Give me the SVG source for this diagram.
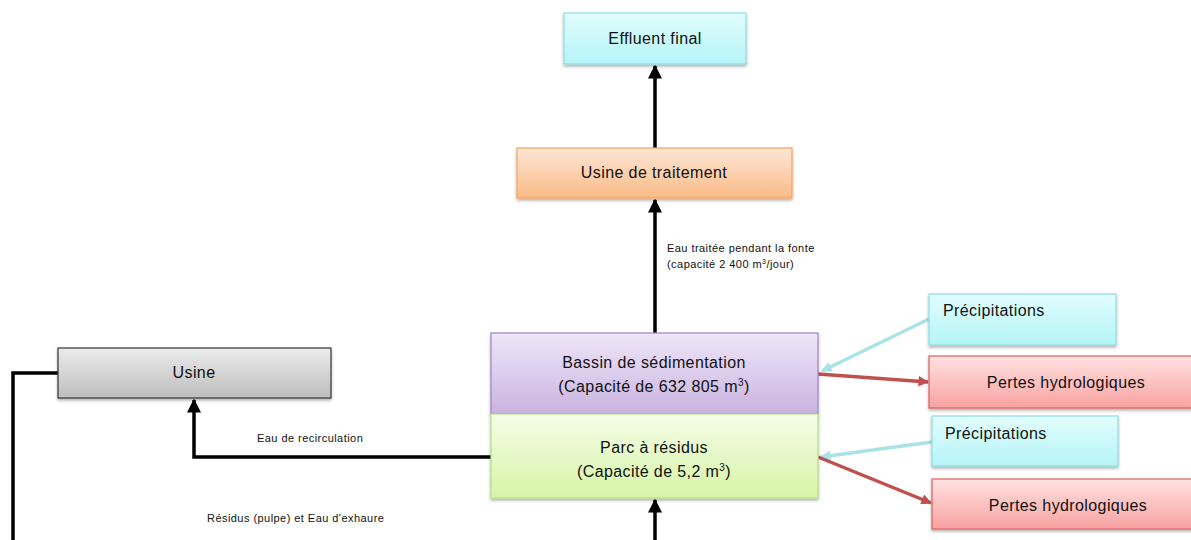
<svg xmlns="http://www.w3.org/2000/svg" width="1191" height="540" viewBox="0 0 1191 540">
  <style>
    .lbl { font-family: "Liberation Sans", Arial, sans-serif; font-size: 16px; letter-spacing: 0.4px; fill: #111; }
    .note { font-family: "Liberation Sans", Arial, sans-serif; font-size: 11px; letter-spacing: 0.45px; fill: #111; }
    .box { filter: url(#shadow); stroke-width: 1.2; }
    .flow { fill: none; stroke: #000; stroke-width: 3.5; }
    .rain { fill: none; stroke: #a9e3e8; stroke-width: 3.5; }
    .loss { fill: none; stroke: #c0504d; stroke-width: 3.5; }
  </style>
  <defs>
    <filter id="shadow" x="-5%" y="-10%" width="110%" height="130%">
      <feDropShadow dx="0" dy="2" stdDeviation="1.5" flood-color="#000" flood-opacity="0.3"/>
    </filter>
    <linearGradient id="gCyan" x1="0" y1="0" x2="0" y2="1">
      <stop offset="0" stop-color="#e2fdfd"/>
      <stop offset="1" stop-color="#b4f4f7"/>
    </linearGradient>
    <linearGradient id="gOrange" x1="0" y1="0" x2="0" y2="1">
      <stop offset="0" stop-color="#fde6d6"/>
      <stop offset="1" stop-color="#fbbb86"/>
    </linearGradient>
    <linearGradient id="gPurple" x1="0" y1="0" x2="0" y2="1">
      <stop offset="0" stop-color="#efe6f8"/>
      <stop offset="1" stop-color="#c9b3e0"/>
    </linearGradient>
    <linearGradient id="gGreen" x1="0" y1="0" x2="0" y2="1">
      <stop offset="0" stop-color="#f5fde8"/>
      <stop offset="1" stop-color="#d6f5a6"/>
    </linearGradient>
    <linearGradient id="gGrey" x1="0" y1="0" x2="0" y2="1">
      <stop offset="0" stop-color="#ececec"/>
      <stop offset="1" stop-color="#bdbdbd"/>
    </linearGradient>
    <linearGradient id="gRed" x1="0" y1="0" x2="0" y2="1">
      <stop offset="0" stop-color="#ffe2e2"/>
      <stop offset="1" stop-color="#f8a2a0"/>
    </linearGradient>
    <marker id="arrBlack" viewBox="0 0 10 10" refX="9" refY="5" markerWidth="4" markerHeight="4" orient="auto" markerUnits="strokeWidth">
      <path d="M0,0 L10,5 L0,10 z" fill="#000"/>
    </marker>
    <marker id="arrRed" viewBox="0 0 10 10" refX="9" refY="5" markerWidth="3.5" markerHeight="3" orient="auto" markerUnits="strokeWidth">
      <path d="M0,0 L10,5 L0,10 z" fill="#c0504d"/>
    </marker>
    <marker id="arrCyan" viewBox="0 0 10 10" refX="9" refY="5" markerWidth="3.5" markerHeight="3" orient="auto" markerUnits="strokeWidth">
      <path d="M0,0 L10,5 L0,10 z" fill="#a9e3e8"/>
    </marker>
  </defs>

  <!-- connectors -->
  <g id="connectors">
    <line class="flow" x1="655" y1="148" x2="655" y2="66" marker-end="url(#arrBlack)"/>
    <line class="flow" x1="655" y1="333" x2="655" y2="200" marker-end="url(#arrBlack)"/>
    <line class="flow" x1="655" y1="540" x2="655" y2="500" marker-end="url(#arrBlack)"/>
    <polyline class="flow" points="491,457 194,457 194,400" marker-end="url(#arrBlack)"/>
    <polyline class="flow" points="13,540 13,373 58,373"/>
    <line class="rain" x1="929" y1="319" x2="822" y2="371" marker-end="url(#arrCyan)"/>
    <line class="loss" x1="818" y1="374" x2="928" y2="382" marker-end="url(#arrRed)"/>
    <line class="rain" x1="932" y1="442" x2="821" y2="457" marker-end="url(#arrCyan)"/>
    <line class="loss" x1="818" y1="457" x2="931" y2="503" marker-end="url(#arrRed)"/>
    <text class="note" x="667" y="252">Eau traitée pendant la fonte</text>
    <text class="note" x="667" y="268">(capacité 2 400 m<tspan font-size="7" dy="-4">3</tspan><tspan dy="4">/jour)</tspan></text>
    <text class="note" x="257" y="442">Eau de recirculation</text>
    <text class="note" x="207" y="522">Résidus (pulpe) et Eau d'exhaure</text>
  </g>

  <g id="effluent-final">
    <rect class="box" x="564" y="13" width="182" height="51" fill="url(#gCyan)" stroke="#8fdde3"/>
    <text class="lbl" x="655" y="44" text-anchor="middle">Effluent final</text>
  </g>

  <g id="usine-traitement">
    <rect class="box" x="517" y="148" width="275" height="50" fill="url(#gOrange)" stroke="#f5a460"/>
    <text class="lbl" x="654" y="178" text-anchor="middle">Usine de traitement</text>
  </g>

  <g id="bassin">
    <rect class="box" x="491" y="333" width="327" height="81" fill="url(#gPurple)" stroke="#9d82c6"/>
    <text class="lbl" x="654" y="368" text-anchor="middle">Bassin de sédimentation</text>
    <text class="lbl" x="654" y="392" text-anchor="middle">(Capacité de 632 805 m<tspan font-size="10" dy="-6">3</tspan><tspan dy="6">)</tspan></text>
  </g>

  <g id="parc-residus">
    <rect class="box" x="491" y="414" width="327" height="84" fill="url(#gGreen)" stroke="#b9dc86"/>
    <text class="lbl" x="654" y="453" text-anchor="middle">Parc à résidus</text>
    <text class="lbl" x="654" y="477" text-anchor="middle">(Capacité de 5,2 m<tspan font-size="10" dy="-6">3</tspan><tspan dy="6">)</tspan></text>
  </g>

  <g id="usine">
    <rect class="box" x="58" y="348" width="273" height="50" fill="url(#gGrey)" stroke="#333"/>
    <text class="lbl" x="194" y="378" text-anchor="middle">Usine</text>
  </g>

  <g id="precipitations-1">
    <rect class="box" x="929" y="294" width="187" height="51" fill="url(#gCyan)" stroke="#8fdde3"/>
    <text class="lbl" x="943" y="316">Précipitations</text>
  </g>

  <g id="pertes-1">
    <rect class="box" x="929" y="356" width="266" height="52" fill="url(#gRed)" stroke="#d9625d"/>
    <text class="lbl" x="1066" y="388" text-anchor="middle">Pertes hydrologiques</text>
  </g>

  <g id="precipitations-2">
    <rect class="box" x="932" y="416" width="186" height="50" fill="url(#gCyan)" stroke="#8fdde3"/>
    <text class="lbl" x="945" y="439">Précipitations</text>
  </g>

  <g id="pertes-2">
    <rect class="box" x="932" y="479" width="263" height="50" fill="url(#gRed)" stroke="#d9625d"/>
    <text class="lbl" x="1068" y="511" text-anchor="middle">Pertes hydrologiques</text>
  </g>
</svg>
